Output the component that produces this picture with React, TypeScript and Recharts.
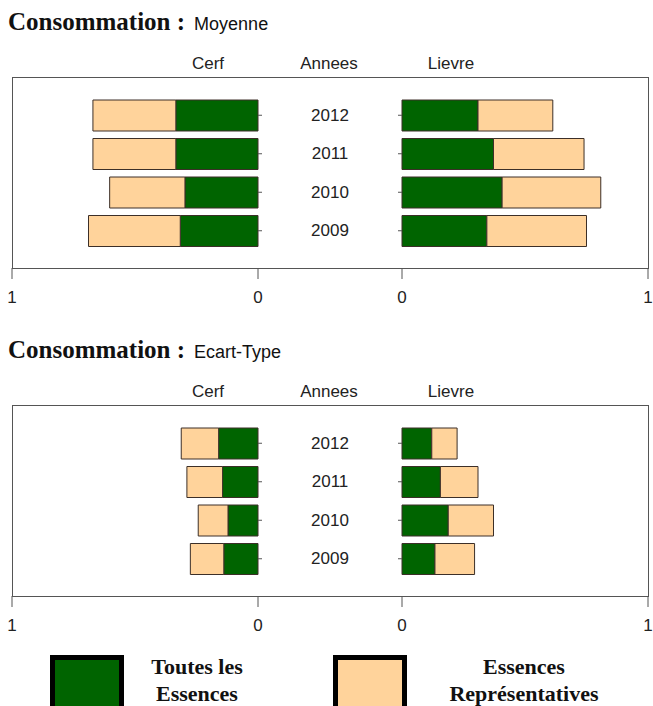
import React from 'react';
import { BarChart, Bar, XAxis, YAxis } from 'recharts';

// ---- data ----
const years = ['2012', '2011', '2010', '2009'];
const seriesNames = ['Toutes les Essences', 'Essences Représentatives'];
const seriesColors = ['#006400', '#FFD39B'];
const axisTicks = [0, 1];

// Moyenne (stacked segments)
const cerfToutesMoy = [0.334, 0.334, 0.297, 0.316];
const cerfReprMoy = [0.337, 0.337, 0.306, 0.373];
const lievreToutesMoy = [0.309, 0.372, 0.407, 0.345];
const lievreReprMoy = [0.304, 0.368, 0.401, 0.405];

// Ecart-Type (stacked segments)
const cerfToutesET = [0.16, 0.144, 0.122, 0.139];
const cerfReprET = [0.152, 0.145, 0.121, 0.136];
const lievreToutesET = [0.121, 0.156, 0.188, 0.134];
const lievreReprET = [0.103, 0.153, 0.184, 0.161];

const SANS = '"Liberation Sans", Arial, sans-serif';
const SERIF = '"Liberation Serif", "Times New Roman", serif';
const TEXT = '#222';
const BAR_STROKE = '#3c2f28';

const build = (a: number[], b: number[]) =>
  years.map((y, i) => ({ year: y, toutes: a[i], repr: b[i] }));

const YearTick = (props: any) => {
  const { x, y, payload } = props;
  return (
    <text x={x + 68} y={y} textAnchor="middle" dominantBaseline="central" fill={TEXT} fontSize={17} fontFamily={SANS}>
      {payload.value}
    </text>
  );
};

const EmptyTick = () => <g />;

type PanelProps = {
  boxTop: number;
  dx: number;
  subtitle: string;
  cerfA: number[];
  cerfB: number[];
  lievreA: number[];
  lievreB: number[];
};

const PLOT_H = 191;
const XAXIS_H = 42;
const W = 653;

function Panel({ boxTop, dx, subtitle, cerfA, cerfB, lievreA, lievreB }: PanelProps) {
  const cerfData = build(cerfA, cerfB);
  const lievreData = build(lievreA, lievreB);
  const leftStart = 12 + dx;
  const leftZero = 258 + dx;
  const rightZero = 402 + dx;
  const rightEnd = 648 + dx;
  const chartH = PLOT_H + XAXIS_H;
  const xTickStyle = { fill: TEXT, fontSize: 17, fontFamily: SANS };
  const bars = (
    [
      <Bar key="t" dataKey="toutes" stackId="s" fill={seriesColors[0]} stroke={BAR_STROKE} strokeWidth={1} barSize={31} isAnimationActive={false} />,
      <Bar key="r" dataKey="repr" stackId="s" fill={seriesColors[1]} stroke={BAR_STROKE} strokeWidth={1} barSize={31} isAnimationActive={false} />,
    ]
  );
  const headerStyle: React.CSSProperties = {
    position: 'absolute',
    top: boxTop - 24,
    height: 22,
    lineHeight: '22px',
    width: 100,
    textAlign: 'center',
    fontFamily: SANS,
    fontSize: 17,
    color: TEXT,
  };
  return (
    <>
      <div
        style={{
          position: 'absolute',
          left: 8,
          top: boxTop - 71,
          height: 32,
          lineHeight: '32px',
          whiteSpace: 'nowrap',
          color: '#111',
        }}
      >
        <span style={{ fontFamily: SERIF, fontWeight: 'bold', fontSize: 25 }}>Consommation :</span>
        <span style={{ fontFamily: SANS, fontSize: 18, marginLeft: 9 }}>{subtitle}</span>
      </div>
      <div style={{ ...headerStyle, left: 208 + dx - 50 }}>Cerf</div>
      <div style={{ ...headerStyle, left: 329 + dx - 50 }}>Annees</div>
      <div style={{ ...headerStyle, left: 451 + dx - 50 }}>Lievre</div>
      <div
        style={{
          position: 'absolute',
          left: leftStart,
          top: boxTop,
          width: rightEnd - leftStart + 1,
          height: PLOT_H + 1,
          border: '1px solid #555',
          boxSizing: 'border-box',
        }}
      />
      <div style={{ position: 'absolute', left: 0, top: boxTop }}>
        <BarChart
          width={W}
          height={chartH}
          data={cerfData}
          layout="vertical"
          margin={{ top: 0, bottom: 0, left: leftStart, right: W - leftZero - 144 }}
        >
          <XAxis
            type="number"
            domain={[0, 1]}
            ticks={axisTicks}
            reversed
            interval={0}
            axisLine={false}
            tickLine={{ stroke: '#555' }}
            tickSize={11}
            tickMargin={12}
            tick={xTickStyle}
            height={XAXIS_H}
          />
          <YAxis
            type="category"
            dataKey="year"
            orientation="right"
            width={144}
            axisLine={false}
            tickLine={{ stroke: '#555' }}
            tickSize={4}
            tickMargin={0}
            tick={(p: any) => <YearTick {...p} />}
            padding={{ top: 19, bottom: 18 }}
          />
          {bars}
        </BarChart>
      </div>
      <div style={{ position: 'absolute', left: 0, top: boxTop }}>
        <BarChart
          width={W}
          height={chartH}
          data={lievreData}
          layout="vertical"
          margin={{ top: 0, bottom: 0, left: rightZero - 20, right: W - rightEnd }}
        >
          <XAxis
            type="number"
            domain={[0, 1]}
            ticks={axisTicks}
            interval={0}
            axisLine={false}
            tickLine={{ stroke: '#555' }}
            tickSize={11}
            tickMargin={12}
            tick={xTickStyle}
            height={XAXIS_H}
          />
          <YAxis
            type="category"
            dataKey="year"
            orientation="left"
            width={20}
            axisLine={false}
            tickLine={{ stroke: '#555' }}
            tickSize={4}
            tickMargin={0}
            tick={() => <EmptyTick />}
            padding={{ top: 19, bottom: 18 }}
          />
          {bars}
        </BarChart>
      </div>
    </>
  );
}

function Legend() {
  const items = [
    { name: ['Toutes les', 'Essences'], color: seriesColors[0], boxLeft: 50, textCenter: 197, full: seriesNames[0] },
    { name: ['Essences', 'Représentatives'], color: seriesColors[1], boxLeft: 333, textCenter: 524, full: seriesNames[1] },
  ];
  return (
    <>
      {items.map((it) => (
        <React.Fragment key={it.full}>
          <div
            style={{
              position: 'absolute',
              left: it.boxLeft,
              top: 655,
              width: 74,
              height: 62,
              background: it.color,
              border: '5px solid #000',
              boxSizing: 'border-box',
            }}
          />
          <div
            style={{
              position: 'absolute',
              left: it.textCenter - 110,
              width: 220,
              top: 653,
              textAlign: 'center',
              fontFamily: SERIF,
              fontWeight: 'bold',
              fontSize: 22,
              lineHeight: '27px',
              color: '#111',
            }}
          >
            {it.name[0]}
            <br />
            {it.name[1]}
          </div>
        </React.Fragment>
      ))}
    </>
  );
}

export default function App() {
  return (
    <div style={{ position: 'absolute', left: 0, top: 0, width: 653, height: 706, overflow: 'hidden', background: '#fff' }}>
      <Panel boxTop={77} dx={0} subtitle="Moyenne" cerfA={cerfToutesMoy} cerfB={cerfReprMoy} lievreA={lievreToutesMoy} lievreB={lievreReprMoy} />
      <Panel boxTop={405} dx={0} subtitle="Ecart-Type" cerfA={cerfToutesET} cerfB={cerfReprET} lievreA={lievreToutesET} lievreB={lievreReprET} />
      <Legend />
    </div>
  );
}
